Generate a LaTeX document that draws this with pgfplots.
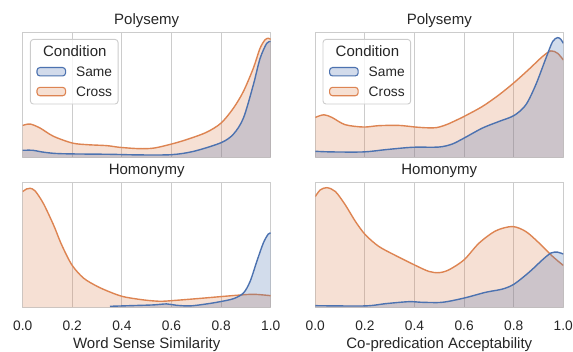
\documentclass[border=0pt]{standalone}
\usepackage{fontspec}
\setmainfont{Liberation Sans}
\usepackage{pgfplots}
\pgfplotsset{compat=1.18}
\usepackage{pgfplotstable}
\definecolor{sblue}{HTML}{4C72B0}
\definecolor{sorange}{HTML}{DD8452}
\definecolor{gridc}{HTML}{CCCCCC}
\definecolor{txt}{HTML}{262626}

% Polysemy, Word Sense Similarity
\pgfplotstableread{
x y
0 .255
0.03 .266
0.07 .234
0.124 .168
0.2 .114
0.26 .101
0.34 .093
0.39 .080
0.47 .069
0.53 .074
0.6 .106
0.66 .141
0.74 .199
0.8 .274
0.85 .394
0.89 .527
0.93 .713
0.957 .872
0.977 .939
0.99 .952
1.0 .944
}\tlcross
\pgfplotstableread{
x y
0 .056
0.04 .056
0.08 .042
0.13 .031
0.2 .027
0.35 .024
0.47 .019
0.6 .021
0.69 .048
0.8 .117
0.85 .186
0.89 .314
0.93 .58
0.957 .79
0.984 .912
1.0 .926
}\tlsame
% Polysemy, Co-predication Acceptability
\pgfplotstableread{
x y
0 .319
0.034 .34
0.067 .319
0.12 .261
0.195 .242
0.256 .253
0.337 .255
0.404 .242
0.45 .236
0.49 .238
0.53 .262
0.57 .298
0.6 .327
0.674 .407
0.741 .5
0.802 .598
0.863 .707
0.916 .806
0.95 .851
0.977 .832
1.0 .779
}\trcross
\pgfplotstableread{
x y
0 .048
0.067 .043
0.195 .043
0.283 .061
0.391 .08
0.498 .082
0.552 .106
0.6 .154
0.674 .234
0.741 .287
0.802 .335
0.849 .42
0.889 .58
0.93 .793
0.957 .926
0.977 .957
0.99 .944
1.0 .912
}\trsame
% Homonymy, Word Sense Similarity
\pgfplotstableread{
x y
0 .926
0.016 .947
0.03 .952
0.05 .931
0.083 .832
0.124 .66
0.157 .5
0.198 .34
0.245 .234
0.3 .168
0.352 .122
0.406 .085
0.487 .059
0.554 .048
0.6 .053
0.702 .069
0.796 .085
0.863 .096
0.93 .104
1.0 .093
}\blcross
\pgfplotstableread{
x y
0.352 .008
0.433 .013
0.527 .019
0.58 .027
0.62 .016
0.675 .011
0.742 .027
0.796 .045
0.85 .069
0.89 .114
0.917 .207
0.944 .367
0.97 .513
0.99 .585
1.0 .593
}\blsame
% Homonymy, Co-predication Acceptability
\pgfplotstableread{
x y
0 .886
0.02 .939
0.047 .957
0.081 .926
0.121 .819
0.162 .686
0.202 .58
0.256 .487
0.323 .415
0.404 .335
0.458 .287
0.499 .277
0.539 .3
0.6 .38
0.66 .513
0.728 .612
0.795 .646
0.849 .606
0.903 .513
0.957 .407
1.0 .335
}\brcross
\pgfplotstableread{
x y
0 .013
0.2 .011
0.283 .029
0.377 .045
0.431 .04
0.512 .04
0.6 .074
0.687 .12
0.755 .146
0.802 .186
0.863 .282
0.916 .38
0.95 .434
0.977 .441
1.0 .426
}\brsame

\pgfplotsset{
  kdeaxis/.style={
    scale only axis, width=248pt, height=125pt,
    anchor=south west,
    xmin=0, xmax=1, ymin=0, ymax=1,
    xtick={0,0.2,0.4,0.6,0.8,1},
    ytick=\empty,
    major tick length=0pt,
    xmajorgrids,
    grid style={gridc, line width=1pt},
    axis line style={gridc, line width=1.25pt},
    tick label style={font=\fontsize{13.75}{16}\selectfont, text=txt},
    xticklabel style={anchor=base, yshift=-23pt,
      /pgf/number format/fixed, /pgf/number format/fixed zerofill,
      /pgf/number format/precision=1, /pgf/number format/assume math mode=true},
    title style={font=\fontsize{15}{18}\selectfont, text=txt, at={(0.5,1)}, anchor=base, yshift=1.7pt},
    label style={font=\fontsize{15}{18}\selectfont, text=txt},
    xlabel style={at={(axis description cs:0.5,0)}, anchor=base, yshift=-41pt},
    clip=true,
  },
  toprow/.style={xticklabels={}},
  withlegend/.style={
    legend style={at={(axis description cs:0.0294,0.9464)}, anchor=north west,
      draw=gridc, line width=0.9pt, fill=white, fill opacity=0.8, text opacity=1,
      rounded corners=3pt, inner xsep=6pt, inner ysep=7.5pt,
      row sep=9.8pt, column sep=10pt,
      font=\fontsize{13.75}{16}\selectfont, text=txt,
      nodes={inner sep=0pt, text height=10pt, text depth=0pt}},
    legend cell align=left,
  },
  patch/.style={legend image code/.code={\draw[##1, line width=1.1pt, fill opacity=0.25] (0pt,-4.2pt) rectangle (28.6pt,4.2pt);}},
  fillsty/.style={draw=none, fill=#1, fill opacity=0.25, forget plot, smooth},
  linesty/.style={draw=#1, line width=1.4pt, forget plot, smooth},
}

\begin{document}
\begin{tikzpicture}
\path[use as bounding box] (0pt,0pt) rectangle (573pt,352pt);

% top-left
\begin{axis}[kdeaxis, toprow, withlegend, at={(22.7pt,194.7pt)}, title={Polysemy}]
\addlegendimage{empty legend}
\addlegendentry{\fontsize{15}{18}\selectfont\hspace*{-33pt}Condition}
\addlegendimage{patch, draw=sblue, fill=sblue}
\addlegendentry{Same}
\addlegendimage{patch, draw=sorange, fill=sorange}
\addlegendentry{Cross}
\addplot[fillsty=sorange] table[x=x,y=y]{\tlcross} \closedcycle;
\addplot[linesty=sorange] table[x=x,y=y]{\tlcross};
\addplot[fillsty=sblue] table[x=x,y=y]{\tlsame} \closedcycle;
\addplot[linesty=sblue] table[x=x,y=y]{\tlsame};
\end{axis}

% top-right
\begin{axis}[kdeaxis, toprow, withlegend, at={(315.3pt,194.7pt)}, title={Polysemy}]
\addlegendimage{empty legend}
\addlegendentry{\fontsize{15}{18}\selectfont\hspace*{-33pt}Condition}
\addlegendimage{patch, draw=sblue, fill=sblue}
\addlegendentry{Same}
\addlegendimage{patch, draw=sorange, fill=sorange}
\addlegendentry{Cross}
\addplot[fillsty=sorange] table[x=x,y=y]{\trcross} \closedcycle;
\addplot[linesty=sorange] table[x=x,y=y]{\trcross};
\addplot[fillsty=sblue] table[x=x,y=y]{\trsame} \closedcycle;
\addplot[linesty=sblue] table[x=x,y=y]{\trsame};
\end{axis}

% bottom-left
\begin{axis}[kdeaxis, at={(22.7pt,44.7pt)}, title={Homonymy}, xlabel={Word Sense Similarity}]
\addplot[fillsty=sorange] table[x=x,y=y]{\blcross} \closedcycle;
\addplot[linesty=sorange] table[x=x,y=y]{\blcross};
\addplot[fillsty=sblue] table[x=x,y=y]{\blsame} \closedcycle;
\addplot[linesty=sblue] table[x=x,y=y]{\blsame};
\end{axis}

% bottom-right
\begin{axis}[kdeaxis, at={(315.3pt,44.7pt)}, title={Homonymy}, xlabel={Co-predication Acceptability}]
\addplot[fillsty=sorange] table[x=x,y=y]{\brcross} \closedcycle;
\addplot[linesty=sorange] table[x=x,y=y]{\brcross};
\addplot[fillsty=sblue] table[x=x,y=y]{\brsame} \closedcycle;
\addplot[linesty=sblue] table[x=x,y=y]{\brsame};
\end{axis}
\end{tikzpicture}
\end{document}
